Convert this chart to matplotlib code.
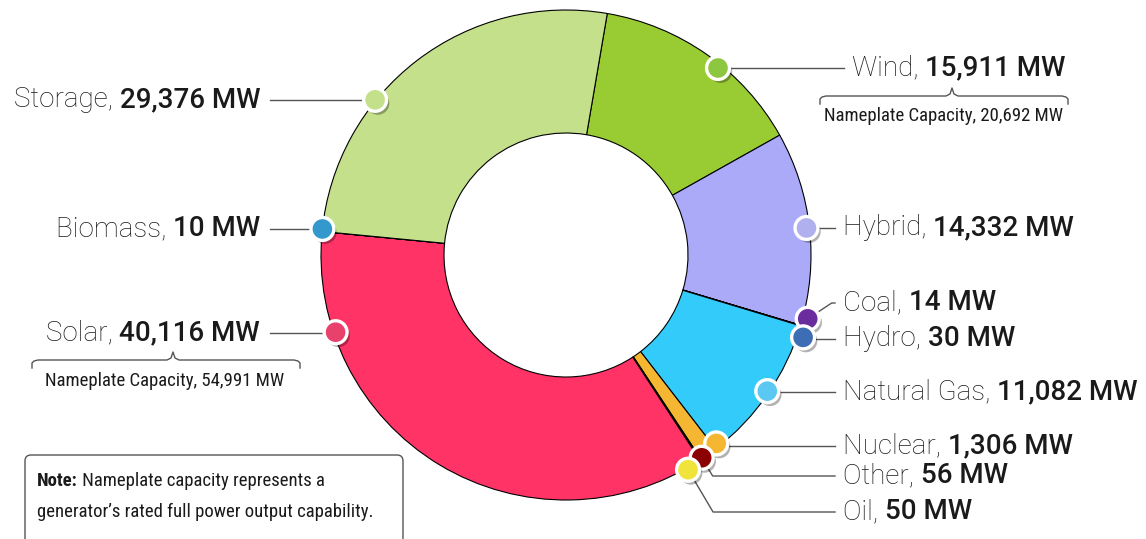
import matplotlib
matplotlib.use('Agg')
import matplotlib.pyplot as plt
import matplotlib.patheffects as pe
from matplotlib.patches import FancyBboxPatch
import numpy as np

W, H = 1146, 539

# data, clockwise from the top
names = ['Wind', 'Hybrid', 'Coal', 'Hydro', 'Natural Gas', 'Nuclear', 'Other', 'Oil',
         'Solar', 'Biomass', 'Storage']
mw = [15911, 14332, 14, 30, 11082, 1306, 56, 50, 40116, 10, 29376]
colors = ['#99cc33', '#aaaaf8', '#6b2d9e', '#3a69b3', '#33ccfa', '#f5b731', '#8b0000',
          '#f2e43a', '#ff3366', '#3399cc', '#c4e08b']
dot_colors = ['#8dc63f', '#b0b0ee', '#6b2d9e', '#3d6db5', '#5bc8f2', '#f5b731', '#8b0000',
              '#f0e43a', '#e8416b', '#3399cc', '#c4e08b']
nameplate = {'Wind': 20692, 'Solar': 54991}

# label layout (pixels from top-left)
offsets = [-3.9, 0.1, 1.9, -2.4, 0.5, 3.0, 0.4, -3.6, -40.3, -0.6, 13.5]
dr = [-4, -3, 5, 6, -2, -4, -1, 2, -2, 0, 1]
line_y = [68, 228, 303, 339, 392, 446, 476, 512, 333, 229, 100]
elbow_dx = [0, 0, 24, 0, 0, 0, 11, 25, 0, 0, 0]

fig = plt.figure(figsize=(W / 100, H / 100), dpi=100)
ax = fig.add_axes([0, 0, 1, 1])
cx, cy, R = 566, H - 255, 245
wedges, _ = ax.pie(mw, colors=colors, startangle=80.3, counterclock=False,
                   center=(cx, cy), radius=R, frame=True,
                   wedgeprops=dict(width=123, edgecolor='black', linewidth=0.8))
ax.set_xlim(0, W)
ax.set_ylim(0, H)
ax.set_aspect('equal')
ax.axis('off')

lc = '#555555'
tc = '#1a1a1a'
name_kw = dict(family='Roboto', weight='light', size=20, color=tc)
val_kw = dict(family='Roboto', weight='medium', size=20, color=tc)
shadow = [pe.SimplePatchShadow(offset=(2, -2.5), shadow_rgbFace='black', alpha=0.3), pe.Normal()]

for i, w in enumerate(wedges):
    mid = (w.theta1 + w.theta2) / 2 + offsets[i]
    mx = cx + (R + dr[i]) * np.cos(np.radians(mid))
    my = cy + (R + dr[i]) * np.sin(np.radians(mid))
    ly = H - line_y[i]
    right = mx > cx
    val = f'{mw[i]:,} MW'
    if right:
        tx = 852 if names[i] == 'Wind' else 843
        ex = tx - 8
        xs = [mx + elbow_dx[i], ex] if elbow_dx[i] else [mx, ex]
        ys = [ly, ly]
        if elbow_dx[i]:
            xs = [mx] + xs
            ys = [my] + ys
        ax.plot(xs, ys, color=lc, lw=1, zorder=3)
        t = ax.text(tx, ly - 7, names[i] + ', ', ha='left', va='baseline', **name_kw)
        ax.annotate(val, xy=(1, 0), xycoords=t, ha='left', va='bottom', **val_kw)
    else:
        tx = 260
        ax.plot([tx + 10, mx], [ly, ly], color=lc, lw=1, zorder=3)
        t = ax.text(tx, ly - 7, val, ha='right', va='baseline', **val_kw)
        ax.annotate(names[i] + ', ', xy=(0, 0), xycoords=t, ha='right', va='bottom', **name_kw)
    ax.plot(mx, my, 'o', ms=16.5, mfc=dot_colors[i], mec='white', mew=2.4, zorder=5,
            path_effects=shadow)


def brace(x0, x1, xp, yp, yh, ye):
    k = 6
    xs = [x0, x0, x0 + 2, x0 + k, xp - k, xp - 2, xp, xp + 2, xp + k, x1 - k, x1 - 2, x1, x1]
    ys = [ye, yh + 3, yh + 1, yh, yh, yh - 2, yp, yh - 2, yh, yh, yh + 1, yh + 3, ye]
    ax.plot(xs, [H - y for y in ys], color=lc, lw=1, zorder=3)


narrow = ['Roboto Condensed', 'Liberation Sans Narrow', 'DejaVu Sans']
brace(820, 1068, 952, 88, 96, 104)
ax.text(944, H - 121, f"Nameplate Capacity, {nameplate['Wind']:,} MW", ha='center',
        va='baseline', family=narrow, size=13.5, color=tc)
brace(32, 300, 173, 352, 360, 368)
ax.text(165, H - 386, f"Nameplate Capacity, {nameplate['Solar']:,} MW", ha='center',
        va='baseline', family=narrow, size=13.5, color=tc)

box = FancyBboxPatch((25, -20), 378, H - 455 + 20, boxstyle='round,pad=0,rounding_size=6',
                     fc='white', ec=lc, lw=1, zorder=2)
ax.add_patch(box)
t = ax.text(37, H - 486, 'Note:', ha='left', va='baseline', family=narrow, weight='bold',
            size=13.5, color=tc)
ax.annotate(' Nameplate capacity represents a', xy=(1, 0), xycoords=t, ha='left',
            va='bottom', family=narrow, size=13.5, color=tc)
ax.text(37, H - 517, 'generator\u2019s rated full power output capability.', ha='left',
        va='baseline', family=narrow, size=13.5, color=tc)

fig.savefig('out.png', dpi=100)
